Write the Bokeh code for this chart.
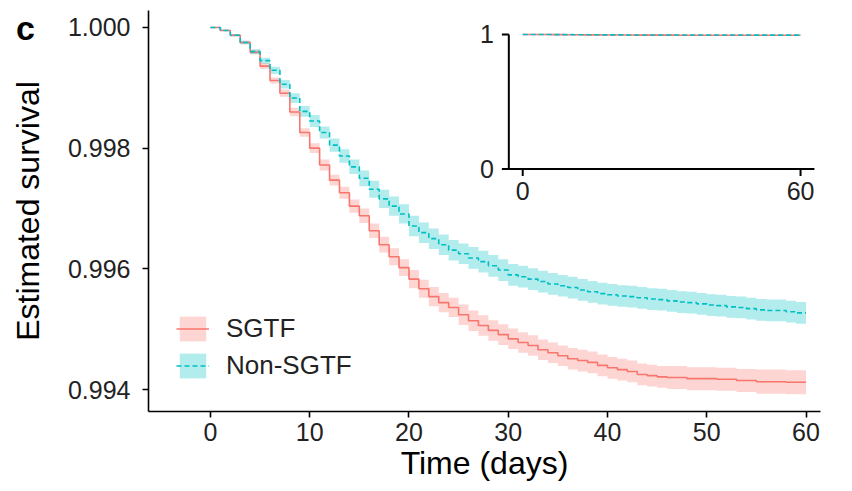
from bokeh.plotting import figure
from bokeh.models import (Range1d, FixedTicker, NumeralTickFormatter, Legend,
                          LegendItem, Label, ColumnDataSource)
from bokeh.core.properties import value
from bokeh.embed import file_html
from bokeh.resources import INLINE

# ---------------- data ----------------
days = list(range(61))
sgtf_surv = [1.00000, 0.99995, 0.99987, 0.99975, 0.99959, 0.99936, 0.99912, 0.99891, 0.99860, 0.99826,
             0.99800, 0.99772, 0.99747, 0.99726, 0.99704, 0.99688, 0.99663, 0.99640, 0.99620, 0.99602,
             0.99583, 0.99567, 0.99554, 0.99544, 0.99536, 0.99524, 0.99514, 0.99506, 0.99498, 0.99491,
             0.99484, 0.99478, 0.99473, 0.99466, 0.99461, 0.99456, 0.99451, 0.99448, 0.99445, 0.99440,
             0.99436, 0.99433, 0.99430, 0.99425, 0.99423, 0.99421, 0.99420, 0.99420, 0.99418, 0.99418,
             0.99418, 0.99417, 0.99417, 0.99415, 0.99415, 0.99413, 0.99413, 0.99413, 0.99412, 0.99412,
             0.99412]
nonsgtf_surv = [1.00000, 0.99995, 0.99987, 0.99975, 0.99960, 0.99945, 0.99929, 0.99906, 0.99883, 0.99861,
                0.99845, 0.99826, 0.99805, 0.99787, 0.99769, 0.99750, 0.99732, 0.99716, 0.99704, 0.99691,
                0.99671, 0.99660, 0.99650, 0.99640, 0.99631, 0.99625, 0.99618, 0.99612, 0.99605, 0.99598,
                0.99590, 0.99587, 0.99583, 0.99579, 0.99575, 0.99572, 0.99569, 0.99565, 0.99562, 0.99559,
                0.99557, 0.99555, 0.99554, 0.99552, 0.99550, 0.99549, 0.99547, 0.99545, 0.99544, 0.99542,
                0.99540, 0.99539, 0.99537, 0.99536, 0.99534, 0.99532, 0.99531, 0.99531, 0.99529, 0.99527,
                0.99527]
# 95% CI half-widths, in units of 1e-5
sgtf_ci_e5 = [0, 1, 2, 3, 4, 5, 5, 6, 7, 7,
              8, 9, 9, 10, 11, 12, 12, 13, 14, 14,
              15, 15, 16, 16, 16, 17, 17, 17, 17, 17,
              17, 17, 17, 17, 17, 17, 18, 18, 18, 18,
              18, 18, 18, 18, 18, 18, 19, 19, 19, 19,
              19, 19, 19, 19, 19, 20, 20, 20, 20, 20,
              20]
nonsgtf_ci_e5 = [0, 1, 2, 3, 4, 5, 6, 7, 8, 9,
                 10, 10, 11, 11, 12, 13, 14, 15, 16, 16,
                 17, 17, 17, 17, 17, 17, 18, 18, 18, 18,
                 18, 18, 18, 18, 18, 18, 18, 18, 18, 18,
                 18, 18, 18, 18, 18, 18, 18, 18, 18, 18,
                 18, 18, 18, 18, 18, 18, 18, 18, 18, 18,
                 18]
series_names = ["SGTF", "Non-SGTF"]
x_ticks = [0, 10, 20, 30, 40, 50, 60]
y_ticks = [0.994, 0.996, 0.998, 1.000]
inset_x_ticks = [0, 60]
inset_y_ticks = [0, 1]

# ---------------- style ----------------
FONT = "Liberation Sans"
RED = "#F8766D"
TEAL = "#00BFC4"
TICK_COLOR = "#222222"


def make_source(surv, ci_e5):
    lo = [s - c * 1e-5 for s, c in zip(surv, ci_e5)]
    hi = [s + c * 1e-5 for s, c in zip(surv, ci_e5)]
    return ColumnDataSource(dict(days=days, s=surv, lo=lo, hi=hi))


src_r = make_source(sgtf_surv, sgtf_ci_e5)
src_t = make_source(nonsgtf_surv, nonsgtf_ci_e5)

p = figure(width=850, height=483, output_backend="svg", toolbar_location=None,
           x_range=Range1d(-6.24, 61.46), y_range=Range1d(0.993636, 1.000281),
           min_border_left=148, min_border_right=30, min_border_top=10,
           min_border_bottom=71)
p.outline_line_color = None
p.grid.visible = False
p.background_fill_color = "white"
p.border_fill_color = "white"

# ribbons
rib_r = p.varea_step(x="days", y1="lo", y2="hi", step_mode="after", source=src_r,
                     fill_color=RED, fill_alpha=0.3)
rib_t = p.varea_step(x="days", y1="lo", y2="hi", step_mode="after", source=src_t,
                     fill_color=TEAL, fill_alpha=0.3)
# lines
ln_r = p.step(x="days", y="s", mode="after", source=src_r, line_color=RED, line_width=1.6)
ln_t = p.step(x="days", y="s", mode="after", source=src_t, line_color=TEAL, line_width=1.6,
              line_dash="5 3")

# axes
for ax in (p.xaxis[0], p.yaxis[0]):
    ax.axis_line_color = "black"
    ax.axis_line_width = 1.6
    ax.major_tick_line_color = "black"
    ax.major_tick_line_width = 1.6
    ax.major_tick_out = 6
    ax.major_tick_in = 0
    ax.minor_tick_line_color = None
    ax.major_label_text_font = FONT
    ax.major_label_text_font_size = "25px"
    ax.major_label_text_color = TICK_COLOR
    ax.axis_label_text_font = FONT
    ax.axis_label_text_font_size = "32px"
    ax.axis_label_text_font_style = "normal"
    ax.axis_label_text_color = "black"

p.xaxis.ticker = FixedTicker(ticks=x_ticks)
p.yaxis.ticker = FixedTicker(ticks=y_ticks)
p.yaxis.formatter = NumeralTickFormatter(format="0.000")
p.xaxis.axis_label = "Time (days)"
p.yaxis.axis_label = "Estimated survival"
p.xaxis.major_label_standoff = 5
p.xaxis.axis_label_standoff = 1
p.yaxis.major_label_standoff = 12
p.yaxis.axis_label_standoff = 19

# legend
legend = Legend(items=[LegendItem(label=series_names[0], renderers=[rib_r, ln_r]),
                       LegendItem(label=series_names[1], renderers=[rib_t, ln_t])],
                location=(28, 30), orientation="vertical",
                glyph_width=33, glyph_height=31, label_height=31,
                label_standoff=17, spacing=6, padding=0, margin=0,
                border_line_color=None, background_fill_alpha=0,
                label_text_font=FONT, label_text_font_size="26px",
                label_text_color=TICK_COLOR)
p.add_layout(legend)

# panel letter (canvas units, in a side panel so it is not clipped to the frame)
p.add_layout(Label(x=25, y=27, x_units="canvas", y_units="canvas", text="c",
                   text_font=FONT, text_font_size="34px", text_font_style="bold",
                   text_align="center", text_baseline="middle", text_color="black"),
             "right")

# ---------------- inset ----------------
ins = p.subplot(x_source=Range1d(0, 60), y_source=Range1d(0, 1),
                x_target=Range1d(31.46, 59.45), y_target=Range1d(0.997653, 0.999884))
x_lo = inset_x_ticks[0] - 0.05 * (inset_x_ticks[-1] - inset_x_ticks[0])
x_hi = inset_x_ticks[-1] + 0.05 * (inset_x_ticks[-1] - inset_x_ticks[0])
ins.segment(x0=[x_lo, x_lo], y0=[0, 0], x1=[x_lo, x_hi], y1=[1, 0],
            line_color="black", line_width=2)
ins.segment(x0=[x_lo] * len(inset_y_ticks), y0=inset_y_ticks,
            x1=[x_lo - 1.5] * len(inset_y_ticks), y1=inset_y_ticks,
            line_color="black", line_width=2)
ins.segment(x0=inset_x_ticks, y0=[0] * len(inset_x_ticks),
            x1=inset_x_ticks, y1=[-0.052] * len(inset_x_ticks),
            line_color="black", line_width=2)
ins.text(x=inset_x_ticks, y=[0] * len(inset_x_ticks), text=[str(t) for t in inset_x_ticks],
         y_offset=13, text_align="center", text_baseline="top",
         text_font=value(FONT), text_font_size="25px", text_color=TICK_COLOR)
ins.text(x=[x_lo] * len(inset_y_ticks), y=inset_y_ticks, text=[str(t) for t in inset_y_ticks],
         x_offset=-15, text_align="right", text_baseline="middle",
         text_font=value(FONT), text_font_size="25px", text_color=TICK_COLOR)
ins.step(x="days", y="s", mode="after", source=src_r, line_color=RED, line_width=1.6)
ins.step(x="days", y="s", mode="after", source=src_t, line_color=TEAL, line_width=1.6,
         line_dash="5 3")

open("out.html", "w").write(file_html(p, INLINE))
